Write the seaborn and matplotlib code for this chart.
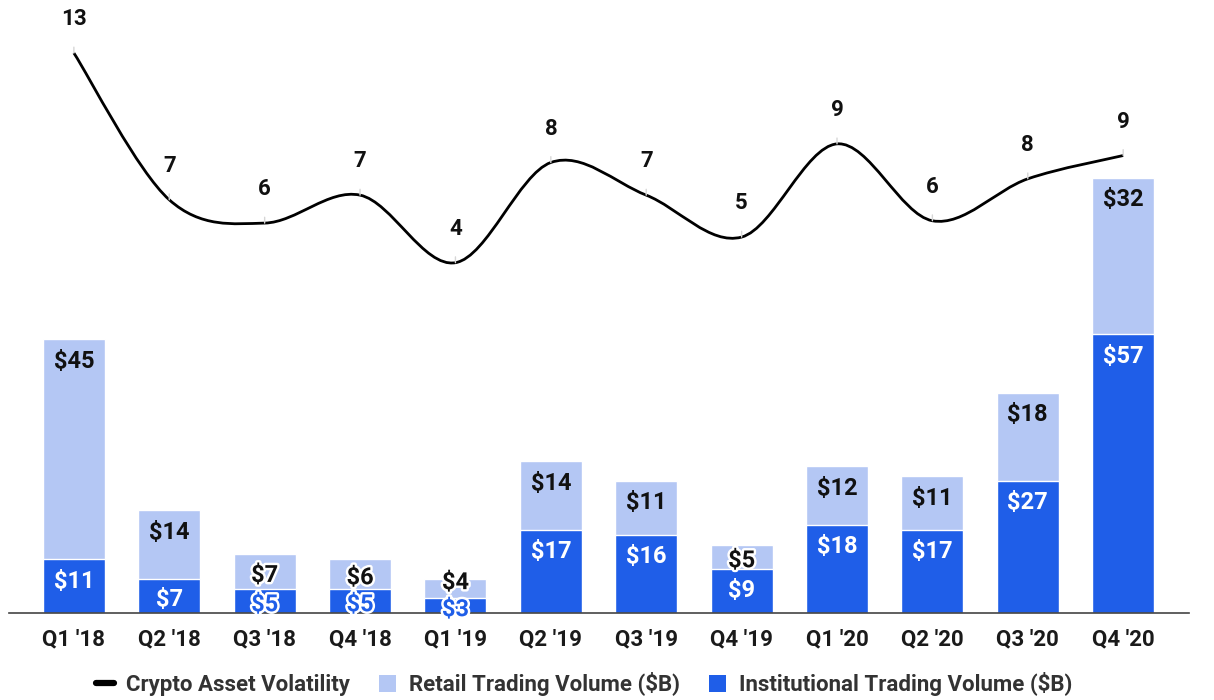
import matplotlib
matplotlib.use("Agg")
import matplotlib.pyplot as plt
import matplotlib.patheffects as pe
from matplotlib.path import Path
from matplotlib.patches import PathPatch, Patch
from matplotlib.lines import Line2D
import numpy as np
import pandas as pd
import seaborn as sns

quarters = ["Q1 '18", "Q2 '18", "Q3 '18", "Q4 '18", "Q1 '19", "Q2 '19",
            "Q3 '19", "Q4 '19", "Q1 '20", "Q2 '20", "Q3 '20", "Q4 '20"]
institutional = [11, 7, 5, 5, 3, 17, 16, 9, 18, 17, 27, 57]
retail = [45, 14, 7, 6, 4, 14, 11, 5, 12, 11, 18, 32]
volatility = [13, 6.7, 5.7, 6.9, 4.0, 8.3, 6.9, 5.1, 9.1, 5.8, 7.6, 8.6]

LIGHT = "#b4c7f4"
BLUE = "#1f5ee8"

sns.set_theme(style="white")
plt.rcParams["font.family"] = ["Roboto", "DejaVu Sans"]

df = pd.DataFrame({"quarter": quarters, "inst": institutional, "retail": retail})
df["total"] = df["inst"] + df["retail"]

fig = plt.figure(figsize=(12.14, 7.0), dpi=100)
W, H = 1214, 700
base_px = 613
ax = fig.add_axes([9 / W, 1 - base_px / H, (1189 - 9) / W, base_px / H])

sns.barplot(data=df, x="quarter", y="total", color=LIGHT, saturation=1,
            width=0.65, ax=ax)
sns.barplot(data=df, x="quarter", y="inst", color=BLUE, saturation=1,
            width=0.65, ax=ax)

px_per_unit = 4.89
ax.set_ylim(0, base_px / px_per_unit)
ax.set_xlim(-0.68, 11.69)
ax.set_xlabel("")
ax.set_ylabel("")
ax.set_yticks([])
for s in ["top", "right", "left"]:
    ax.spines[s].set_visible(False)
ax.spines["bottom"].set_color("#444444")
ax.spines["bottom"].set_linewidth(1.2)
ax.tick_params(axis="x", length=0, pad=11, labelsize=16, labelcolor="#1a1a1a")
for t in ax.get_xticklabels():
    t.set_fontweight("bold")

halo = [pe.withStroke(linewidth=3.5, foreground="white")]

def place(x, top, off, text, color, use_halo):
    kw = dict(xy=(x, top), xytext=(0, -off), textcoords="offset pixels",
              ha="center", va="center", fontsize=17, fontweight="bold",
              color=color, annotation_clip=False)
    if use_halo:
        kw["path_effects"] = halo
    ax.annotate(text, **kw)

for i in range(len(quarters)):
    inst = institutional[i]
    ret = retail[i]
    inst_top_px = inst * px_per_unit
    tot_top_px = (inst + ret) * px_per_unit
    off_i = min(22, inst_top_px / 2 + 4)
    off_r = min(22, ret * px_per_unit / 2 + 4)
    h_i = inst_top_px - off_i
    h_r = max(tot_top_px - off_r, h_i + 27)
    off_r = tot_top_px - h_r
    place(i, inst + ret, off_r, f"${ret}", "#111111", ret < 7.5)
    small_i = inst < 6
    place(i, inst, off_i, f"${inst}", BLUE if small_i else "white", small_i)

# volatility line on twin axis
ax2 = ax.twinx()
top_px, top_val, ppu2 = 53, 13, 23.3
ax2.set_ylim(top_val - (base_px - top_px) / ppu2, top_val + top_px / ppu2)
ax2.set_yticks([])
for s in ax2.spines.values():
    s.set_visible(False)

xs = np.arange(len(volatility), dtype=float)
ys = np.array(volatility, dtype=float)
verts = [(xs[0], ys[0])]
codes = [Path.MOVETO]
n = len(xs)
for i in range(n - 1):
    p0 = np.array([xs[max(i - 1, 0)], ys[max(i - 1, 0)]])
    p1 = np.array([xs[i], ys[i]])
    p2 = np.array([xs[i + 1], ys[i + 1]])
    p3 = np.array([xs[min(i + 2, n - 1)], ys[min(i + 2, n - 1)]])
    c1 = p1 + (p2 - p0) / 6
    c2 = p2 - (p3 - p1) / 6
    verts += [tuple(c1), tuple(c2), tuple(p2)]
    codes += [Path.CURVE4] * 3
ax2.add_patch(PathPatch(Path(verts, codes), fill=False, edgecolor="black",
                        lw=2.0, capstyle="butt"))

for x, v in zip(xs, ys):
    ax2.annotate(f"{v:.0f}", xy=(x, v), xytext=(0, 34), textcoords="offset pixels",
                 ha="center", va="center", fontsize=16, fontweight="bold",
                 color="#111111", annotation_clip=False,
                 arrowprops=dict(arrowstyle="-", color="#d6d6d6", lw=1,
                                 shrinkA=10, shrinkB=0))

handles = [
    Line2D([0], [0], color="black", lw=4.5),
    Patch(facecolor=LIGHT, edgecolor="none"),
    Patch(facecolor=BLUE, edgecolor="none"),
]
labels = ["Crypto Asset Volatility", "Retail Trading Volume ($B)",
          "Institutional Trading Volume ($B)"]
leg = fig.legend(handles, labels, loc="center", bbox_to_anchor=(0.481, 1 - 684 / H),
                 ncol=3, frameon=False, fontsize=16, handlelength=0.8,
                 handleheight=0.8, handletextpad=0.55, columnspacing=1.3)
for t in leg.get_texts():
    t.set_fontweight("bold")
    t.set_color("#333333")

fig.savefig("out.png", dpi=100)
